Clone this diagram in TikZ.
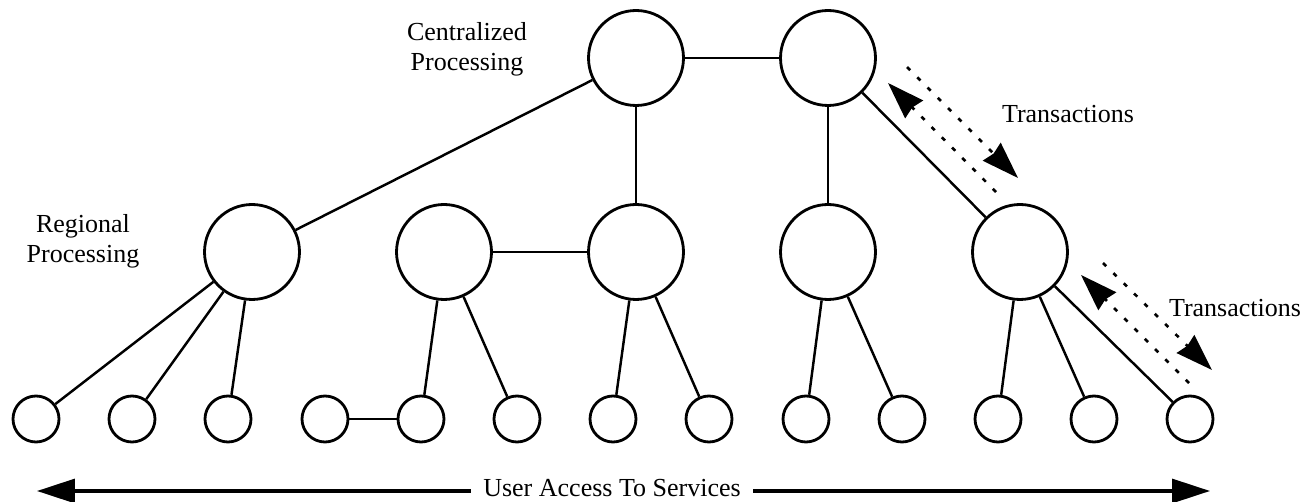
\documentclass[tikz,border=0pt]{standalone}
\usepackage{fontspec}
\setmainfont{Liberation Serif}
\usetikzlibrary{arrows.meta}

\begin{document}
\begin{tikzpicture}[x=0.02cm, y=-0.02cm,
    big/.style={circle, draw, line width=1.6pt, minimum size=1.9cm, inner sep=0pt},
    small/.style={circle, draw, line width=1.6pt, minimum size=0.92cm, inner sep=0pt},
    link/.style={line width=1.4pt},
    txn/.style={line width=1.5pt, dash pattern=on 0.09cm off 0.2cm,
      -{Stealth[length=0.74cm, width=0.5cm, inset=0.05cm]}},
    access/.style={line width=1.8pt, -{Triangle[length=0.76cm, width=0.48cm]}},
    label/.style={font=\fontsize{14.8pt}{17pt}\selectfont, align=center}]
  \useasboundingbox (0,0) rectangle (1315,502);
  % centralized processing
  \node[big] (C1) at (636,58) {};
  \node[big] (C2) at (828,58) {};
  % regional processing
  \node[big] (R1) at (252,252) {};
  \node[big] (R2) at (444,252) {};
  \node[big] (R3) at (636,252) {};
  \node[big] (R4) at (828,252) {};
  \node[big] (R5) at (1020,252) {};
  % users
  \node[small] (U1) at (36,419) {};
  \node[small] (U2) at (132,419) {};
  \node[small] (U3) at (228,419) {};
  \node[small] (U4) at (325,419) {};
  \node[small] (U5) at (421,419) {};
  \node[small] (U6) at (517,419) {};
  \node[small] (U7) at (613,419) {};
  \node[small] (U8) at (709,419) {};
  \node[small] (U9) at (806,419) {};
  \node[small] (U10) at (902,419) {};
  \node[small] (U11) at (998,419) {};
  \node[small] (U12) at (1094,419) {};
  \node[small] (U13) at (1190,419) {};
  \draw[link] (C1) -- (C2);
  \draw[link] (C1) -- (R1);
  \draw[link] (C1) -- (R3);
  \draw[link] (C2) -- (R4);
  \draw[link] (C2) -- (R5);
  \draw[link] (R2) -- (R3);
  \draw[link] (R1) -- (U1);
  \draw[link] (R1) -- (U2);
  \draw[link] (R1) -- (U3);
  \draw[link] (U4) -- (U5);
  \draw[link] (R2) -- (U5);
  \draw[link] (R2) -- (U6);
  \draw[link] (R3) -- (U7);
  \draw[link] (R3) -- (U8);
  \draw[link] (R4) -- (U9);
  \draw[link] (R4) -- (U10);
  \draw[link] (R5) -- (U11);
  \draw[link] (R5) -- (U12);
  \draw[link] (R5) -- (U13);
  % transactions
  \coordinate (TA1) at (888,83);
  \coordinate (TA2) at (996,192);
  \coordinate (TB1) at (907,67);
  \coordinate (TB2) at (1018,178);
  \coordinate (TC1) at (1081,275);
  \coordinate (TC2) at (1189,383);
  \coordinate (TD1) at (1103,263);
  \coordinate (TD2) at (1212,370);
  \draw[txn] (TA2) -- (TA1);
  \draw[txn] (TB1) -- (TB2);
  \draw[txn] (TC2) -- (TC1);
  \draw[txn] (TD1) -- (TD2);
  \node[label, anchor=base] (T1) at (1068,123) {Transactions};
  \node[label, anchor=base] (T2) at (1235,317) {Transactions};
  \node[label] (cen) at (467,49) {Centralized\\Processing};
  \node[label] (reg) at (83,241) {Regional\\Processing};
  % user access
  \node[label, anchor=base, inner xsep=7pt, inner ysep=0pt] (ua) at (612,497) {User Access To Services};
  \coordinate (LA) at (37,491);
  \coordinate (RA) at (1210,491);
  \draw[access] (ua.west |- LA) -- (LA);
  \draw[access] (ua.east |- RA) -- (RA);
\end{tikzpicture}
\end{document}
